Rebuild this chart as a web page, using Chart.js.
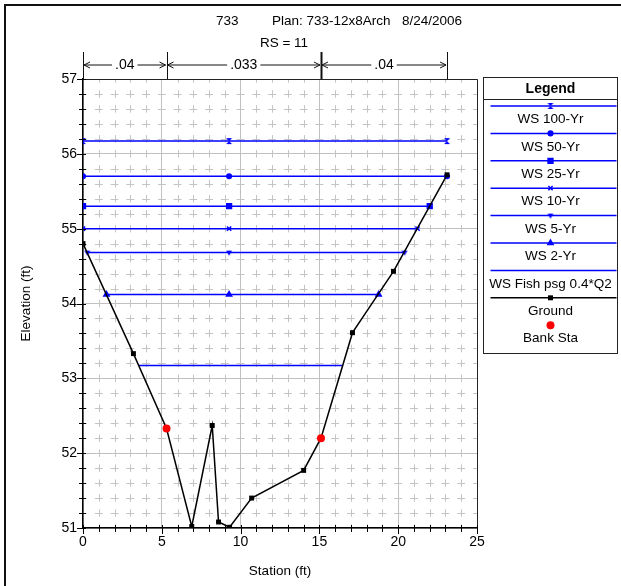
<!DOCTYPE html>
<html>
<head>
<meta charset="utf-8">
<script src="https://cdn.jsdelivr.net/npm/chart.js@4.4.0/dist/chart.umd.min.js"></script>
<style>
  html, body { margin: 0; padding: 0; background: #fff; }
  #wrap { position: relative; width: 621px; height: 586px; }
</style>
</head>
<body>
<div id="wrap"><canvas id="xs" width="621" height="586"></canvas></div>
<script>
'use strict';

const titleParts = ['733', 'Plan: 733-12x8Arch', '8/24/2006'];
const subTitle = 'RS = 11';

// ground profile (station ft, elevation ft)
const groundSta = [0, 3.2, 5.3, 6.9, 8.2, 8.6, 9.3, 10.7, 14.0, 15.1, 17.1, 19.7, 23.1];
const groundElev = [54.8, 53.33, 52.33, 51.02, 52.37, 51.08, 51.01, 51.4, 51.77, 52.2, 53.61, 54.43, 55.72];

// bank stations
const bankSta = [5.3, 15.1];
const bankElev = [52.33, 52.2];

// water surfaces
const wsNames = ['WS 100-Yr', 'WS 50-Yr', 'WS 25-Yr', 'WS 10-Yr', 'WS 5-Yr', 'WS 2-Yr', 'WS Fish psg 0.4*Q2'];
const wsElev = [56.17, 55.70, 55.30, 55.00, 54.68, 54.12, 53.17];
const wsLeft = [0, 0, 0, 0, 0.27, 1.49, 3.54];
const wsRight = [23.1, 23.1, 22.0, 21.23, 20.4, 18.76, 16.5];
const wsMid = 9.27;

// manning's n regions
const nBreaks = [0, 5.3, 15.1, 23.1];
const nValues = ['.04', '.033', '.04'];

// axis labels
const xTicks = [0, 5, 10, 15, 20, 25];
const yTicks = [51, 52, 53, 54, 55, 56, 57];

const FONT = '"Liberation Sans", Arial, sans-serif';
const BLUE = '#0000ff';

// minor steps between the labelled ticks
const xSteps = [];
for (let i = 0; i <= 25; i++) xSteps.push(i);
const ySteps = [];
for (let i = 0; i <= 30; i++) ySteps.push(Math.round((51 + i * 0.2) * 10) / 10);

function markerCanvas(draw) {
  const c = document.createElement('canvas');
  c.width = 8; c.height = 8;
  const g = c.getContext('2d');
  g.fillStyle = BLUE;
  g.strokeStyle = BLUE;
  draw(g);
  return c;
}
const hourglass = markerCanvas(g => {
  g.beginPath(); g.moveTo(1, 1); g.lineTo(7, 1); g.lineTo(1, 7); g.lineTo(7, 7); g.closePath(); g.fill();
});
const triDown = markerCanvas(g => {
  g.beginPath(); g.moveTo(1, 2); g.lineTo(7, 2); g.lineTo(4, 7); g.closePath(); g.fill();
});

const wsStyles = [
  { pointStyle: hourglass, radius: 3 },
  { pointStyle: 'circle', radius: 2.3 },
  { pointStyle: 'rect', radius: 3.4 },
  { pointStyle: 'crossRot', radius: 3 },
  { pointStyle: triDown, radius: 3 },
  { pointStyle: 'triangle', radius: 3 },
  { pointStyle: false, radius: 0 },
];

const datasets = wsNames.map((name, i) => ({
  label: name,
  data: [
    { x: wsLeft[i], y: wsElev[i] },
    { x: wsMid, y: wsElev[i] },
    { x: wsRight[i], y: wsElev[i] },
  ],
  showLine: true,
  borderColor: BLUE,
  backgroundColor: BLUE,
  borderWidth: 1.5,
  pointStyle: wsStyles[i].pointStyle,
  pointRadius: wsStyles[i].radius,
  pointBorderWidth: 1.5,
  order: 2,
}));

datasets.push({
  label: 'Ground',
  data: groundSta.map((s, i) => ({ x: s, y: groundElev[i] })),
  showLine: true,
  borderColor: '#000',
  backgroundColor: '#000',
  borderWidth: 1.5,
  pointStyle: 'rect',
  pointRadius: 3.5,
  pointBorderWidth: 0,
  order: 1,
});

datasets.push({
  label: 'Bank Sta',
  data: bankSta.map((s, i) => ({ x: s, y: bankElev[i] })),
  showLine: false,
  borderColor: '#ff0000',
  backgroundColor: '#ff0000',
  pointStyle: 'circle',
  pointRadius: 4,
  pointBorderWidth: 0,
  order: 0,
});

function drawMarker(ctx, ds, x, y) {
  if (!ds.pointStyle) return;
  ctx.save();
  ctx.fillStyle = ds.backgroundColor;
  ctx.strokeStyle = ds.borderColor;
  ctx.lineWidth = ds.pointBorderWidth || 1;
  Chart.helpers.drawPoint(ctx, {
    pointStyle: ds.pointStyle,
    radius: ds.pointRadius,
    rotation: 0,
    borderWidth: ds.pointBorderWidth || 0,
  }, x, y);
  ctx.restore();
}

const minorGrid = {
  id: 'minorGrid',
  beforeDatasetsDraw(chart) {
    const { ctx, chartArea: a, scales: { x, y } } = chart;
    ctx.save();
    ctx.strokeStyle = '#c4c4c4';
    ctx.lineWidth = 1;
    const cellY = Math.abs(y.getPixelForValue(51.2) - y.getPixelForValue(51));
    const cellX = x.getPixelForValue(1) - x.getPixelForValue(0);
    ctx.setLineDash([cellY / 2, cellY / 2]);
    ctx.lineDashOffset = cellY / 4;
    xSteps.forEach(v => {
      if (xTicks.includes(v)) return;
      const px = Math.round(x.getPixelForValue(v)) + 0.5;
      ctx.beginPath(); ctx.moveTo(px, a.bottom); ctx.lineTo(px, a.top); ctx.stroke();
    });
    ctx.setLineDash([cellX / 2, cellX / 2]);
    ctx.lineDashOffset = cellX / 4;
    ySteps.forEach(v => {
      if (yTicks.includes(v)) return;
      const py = Math.round(y.getPixelForValue(v)) + 0.5;
      ctx.beginPath(); ctx.moveTo(a.left, py); ctx.lineTo(a.right, py); ctx.stroke();
    });
    ctx.restore();
  },
  afterDatasetsDraw(chart) {
    const { ctx, chartArea: a, scales: { x, y } } = chart;
    ctx.save();
    // plot box top/right
    ctx.strokeStyle = '#222';
    ctx.lineWidth = 1;
    ctx.beginPath();
    ctx.moveTo(a.left, a.top + 0.5); ctx.lineTo(a.right + 0.5, a.top + 0.5); ctx.lineTo(a.right + 0.5, a.bottom);
    ctx.stroke();
    // axis tick marks
    ctx.strokeStyle = '#000';
    xSteps.forEach(v => {
      const px = Math.round(x.getPixelForValue(v)) + 0.5;
      const major = xTicks.includes(v);
      ctx.beginPath(); ctx.moveTo(px, a.bottom - 3); ctx.lineTo(px, a.bottom + (major ? 6 : 4)); ctx.stroke();
    });
    ySteps.forEach(v => {
      const py = Math.round(y.getPixelForValue(v)) + 0.5;
      const major = yTicks.includes(v);
      ctx.beginPath(); ctx.moveTo(a.left - (major ? 6 : 4), py); ctx.lineTo(a.left + 3, py); ctx.stroke();
    });
    ctx.restore();
  },
};

const decorations = {
  id: 'decorations',
  afterDraw(chart) {
    const { ctx, chartArea: a, scales: { x } } = chart;
    ctx.save();

    // outer frame
    ctx.strokeStyle = '#111';
    ctx.lineWidth = 2;
    ctx.beginPath();
    ctx.moveTo(5, 590); ctx.lineTo(5, 5); ctx.lineTo(621, 5);
    ctx.stroke();

    // title
    ctx.fillStyle = '#000';
    ctx.textBaseline = 'middle';
    ctx.font = '13.5px ' + FONT;
    ctx.textAlign = 'left';
    ctx.fillText(titleParts[0], 216, 21);
    ctx.fillText(titleParts[1], 272, 21);
    ctx.fillText(titleParts[2], 402, 21);
    ctx.textAlign = 'center';
    ctx.fillText(subTitle, 284, 43);

    // manning's n bar
    ctx.font = '14px ' + FONT;
    const yArrow = 65;
    nBreaks.forEach((s, i) => {
      const px = Math.round(x.getPixelForValue(s)) + 0.5;
      ctx.lineWidth = i === 2 ? 2 : 1;
      ctx.beginPath(); ctx.moveTo(px, 52); ctx.lineTo(px, a.top); ctx.stroke();
    });
    ctx.lineWidth = 1;
    nValues.forEach((n, i) => {
      const x0 = x.getPixelForValue(nBreaks[i]) + 1;
      const x1 = x.getPixelForValue(nBreaks[i + 1]) - 1;
      const mid = (x0 + x1) / 2;
      const half = ctx.measureText(n).width / 2 + 3;
      ctx.fillText(n, mid, yArrow);
      ctx.beginPath();
      ctx.moveTo(x0, yArrow); ctx.lineTo(mid - half, yArrow);
      ctx.moveTo(mid + half, yArrow); ctx.lineTo(x1, yArrow);
      ctx.moveTo(x0 + 6, yArrow - 3); ctx.lineTo(x0, yArrow); ctx.lineTo(x0 + 6, yArrow + 3);
      ctx.moveTo(x1 - 6, yArrow - 3); ctx.lineTo(x1, yArrow); ctx.lineTo(x1 - 6, yArrow + 3);
      ctx.stroke();
    });

    // legend box
    const lx = 483.5, ly = 77.5, lw = 134, lh = 276;
    ctx.strokeStyle = '#222';
    ctx.lineWidth = 1;
    ctx.strokeRect(lx, ly, lw, lh);
    ctx.beginPath(); ctx.moveTo(lx, 99.5); ctx.lineTo(lx + lw, 99.5); ctx.stroke();
    ctx.font = 'bold 14px ' + FONT;
    ctx.fillText('Legend', lx + lw / 2, 89);
    ctx.font = '13.5px ' + FONT;
    const cx = lx + lw / 2;
    chart.data.datasets.forEach((ds, i) => {
      const yl = 106 + i * 27.4;
      if (ds.showLine) {
        ctx.strokeStyle = ds.borderColor;
        ctx.lineWidth = ds.borderWidth;
        ctx.beginPath(); ctx.moveTo(lx + 7, yl); ctx.lineTo(lx + lw - 1, yl); ctx.stroke();
      }
      drawMarker(ctx, ds, cx, yl);
      ctx.fillStyle = '#000';
      ctx.fillText(ds.label, cx, yl + 13.5);
    });
    ctx.restore();
  },
};

new Chart(document.getElementById('xs'), {
  type: 'scatter',
  data: { datasets },
  options: {
    responsive: false,
    animation: false,
    layout: { padding: { top: 79, right: 144, left: 0, bottom: 0 } },
    plugins: {
      legend: { display: false },
      tooltip: { enabled: false },
    },
    scales: {
      x: {
        type: 'linear',
        min: 0,
        max: 25,
        afterFit: s => { s.height = 58; },
        afterBuildTicks: s => { s.ticks = xSteps.map(v => ({ value: v })); },
        ticks: {
          autoSkip: false,
          maxRotation: 0,
          padding: 6,
          color: '#000',
          font: { family: FONT, size: 14 },
          callback: v => (xTicks.includes(v) ? String(v) : ''),
        },
        grid: {
          drawTicks: false,
          color: c => (c.tick && xTicks.includes(c.tick.value) ? '#c0c0c0' : 'rgba(0,0,0,0)'),
        },
        border: { color: '#000', width: 1.5 },
        title: {
          display: true,
          text: 'Station (ft)',
          color: '#000',
          font: { family: FONT, size: 13.5 },
          padding: { top: 0, bottom: 7 },
        },
      },
      y: {
        type: 'linear',
        min: 51,
        max: 57,
        afterFit: s => { s.width = 83; },
        afterBuildTicks: s => { s.ticks = ySteps.map(v => ({ value: v })); },
        ticks: {
          autoSkip: false,
          padding: 6,
          color: '#000',
          font: { family: FONT, size: 14 },
          callback: v => (yTicks.includes(v) ? String(v) : ''),
        },
        grid: {
          drawTicks: false,
          color: c => (c.tick && yTicks.includes(c.tick.value) ? '#c0c0c0' : 'rgba(0,0,0,0)'),
        },
        border: { color: '#000', width: 1.5 },
        title: {
          display: true,
          text: 'Elevation (ft)',
          color: '#000',
          font: { family: FONT, size: 13.5 },
          padding: { top: 18, bottom: 0 },
        },
      },
    },
  },
  plugins: [minorGrid, decorations],
});
</script>
</body>
</html>
